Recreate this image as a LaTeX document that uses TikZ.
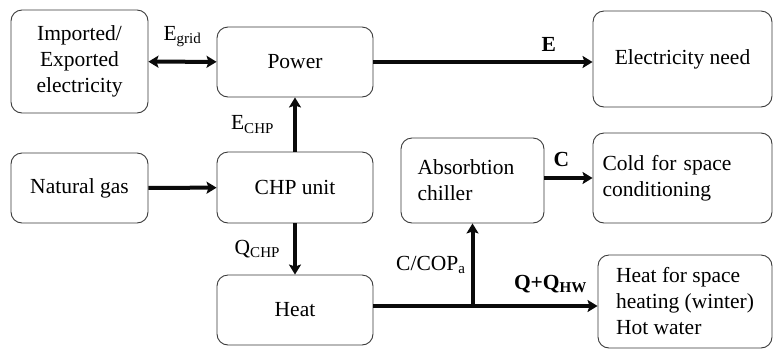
\documentclass[tikz,border=0pt]{standalone}
\usepackage{fontspec}
\setmainfont{Liberation Serif}
\usepackage{tikz}
\usetikzlibrary{arrows.meta, positioning, calc}
\definecolor{colEdge}{HTML}{3A3A3A}
\definecolor{colFlow}{HTML}{0A0A0A}
\tikzset{
  unit/.style={
    draw=colEdge, rounded corners=11pt,
    line width=0.9pt, align=center, inner sep=4pt,
    font=\fontsize{21.5}{26}\selectfont
  },
  sideunit/.style={unit, align=left},
  flow/.style={
    -{Stealth[length=10pt,width=12pt,inset=2pt]},
    line width=4pt, draw=colFlow
  },
  flowboth/.style={
    {Stealth[length=10pt,width=12pt,inset=2pt]}-{Stealth[length=10pt,width=12pt,inset=2pt]},
    line width=4pt, draw=colFlow
  },
  lbl/.style={font=\fontsize{21.5}{26}\selectfont, inner sep=1pt}
}

\begin{document}
\begin{tikzpicture}[x=1pt, y=-1pt]
  \useasboundingbox (0,0) rectangle (774,349);
  % supply side
  \node[unit, minimum width=137pt, minimum height=103pt] (grid) at (79.5,61.5) {Imported/\\Exported\\electricity};
  \node[unit, minimum width=137pt, minimum height=70pt]  (gas)  at (79.5,188) {Natural gas};
  % conversion
  \node[unit, minimum width=156pt, minimum height=70pt]  (power) at (295,62) {Power};
  \node[unit, minimum width=156pt, minimum height=71pt]  (chp)   at (295,187.5) {CHP unit};
  \node[unit, minimum width=156pt, minimum height=70pt]  (heat)  at (295,310) {Heat};
  \node[sideunit, minimum width=143pt, minimum height=85pt, text width=110pt, inner xsep=16.5pt] (chiller) at (472.5,180.5) {Absorbtion\\chiller};
  % demands
  \node[unit, minimum width=179pt, minimum height=96pt]  (elec) at (682.5,59) {Electricity need};
  \node[sideunit, minimum width=179pt, minimum height=90pt, text width=160pt, inner xsep=9.5pt] (cold) at (682.5,178) {Cold for space\\conditioning};
  \node[sideunit, minimum width=174pt, minimum height=93pt] (hfs) at (685,301.5) {Heat for space\\heating (winter)\\Hot water};
  % flows
  \coordinate (hout) at ([yshift=4pt]heat.east);
  \coordinate (jn) at (hout -| chiller.south);
  \draw[flowboth] (grid) -- node[lbl, above=12pt] {E\textsubscript{grid}} (power);
  \draw[flow] (power.east) -- node[lbl, above=8pt, pos=0.8] {\textbf{E}} (power.east -| elec.west);
  \draw[flow] (gas) -- (chp);
  \draw[flow] (chp) -- node[lbl, left=18pt] {E\textsubscript{CHP}} (power);
  \draw[flow] (chp) -- node[lbl, left=12pt] {Q\textsubscript{CHP}} (heat);
  \draw[flow] (hout) -- node[lbl, above=10pt, pos=0.79] {\textbf{Q+Q\textsubscript{HW}}} (hout -| hfs.west);
  \draw[flow] (jn) -- node[lbl, left=4pt] {C/COP\textsubscript{a}} (chiller.south);
  \draw[flow] (chiller.east |- cold.west) -- node[lbl, above=8pt, pos=0.35] {\textbf{C}} (cold.west);
\end{tikzpicture}
\end{document}
